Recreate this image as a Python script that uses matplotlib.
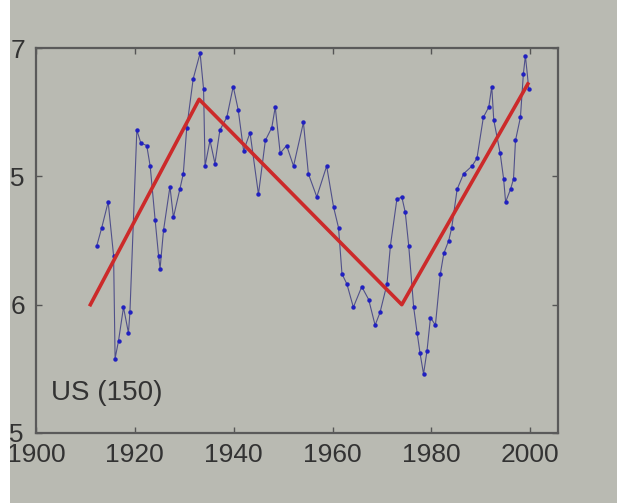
import matplotlib
matplotlib.use('Agg')
import matplotlib.pyplot as plt
import matplotlib.ticker as ticker
from matplotlib.patches import Rectangle

plt.rcParams['font.family'] = ['Liberation Sans', 'DejaVu Sans']

# blue series (year, value)
years = [1912.3, 1913.3, 1914.6, 1915.7, 1916.0, 1916.7, 1917.7, 1918.7, 1919.0,
         1920.4, 1921.2, 1922.4, 1923.1, 1924.1, 1924.8, 1925.1, 1925.8, 1927.1,
         1927.8, 1929.1, 1929.8, 1930.5, 1931.8, 1933.2, 1933.9, 1934.2, 1935.2,
         1936.2, 1937.2, 1938.6, 1939.9, 1940.9, 1942.0, 1943.3, 1945.0, 1946.4,
         1947.7, 1948.4, 1949.4, 1950.7, 1952.1, 1954.1, 1955.1, 1956.8, 1958.8,
         1960.2, 1961.2, 1961.9, 1962.9, 1964.2, 1965.9, 1967.3, 1968.6, 1969.6,
         1971.0, 1971.7, 1973.0, 1974.0, 1974.7, 1975.4, 1976.4, 1977.1, 1977.7,
         1978.4, 1979.1, 1979.8, 1980.8, 1981.8, 1982.5, 1983.5, 1984.1, 1985.2,
         1986.5, 1988.2, 1989.2, 1990.5, 1991.6, 1992.2, 1992.6, 1993.9, 1994.6,
         1995.0, 1996.0, 1996.6, 1997.0, 1998.0, 1998.6, 1999.0, 1999.7]
values = [6.23, 6.30, 6.40, 6.19, 5.79, 5.86, 5.99, 5.89, 5.97,
          6.68, 6.63, 6.62, 6.54, 6.33, 6.19, 6.14, 6.29, 6.46,
          6.34, 6.45, 6.51, 6.69, 6.88, 6.98, 6.84, 6.54, 6.64,
          6.55, 6.68, 6.73, 6.85, 6.76, 6.60, 6.67, 6.43, 6.64,
          6.69, 6.77, 6.59, 6.62, 6.54, 6.71, 6.51, 6.42, 6.54,
          6.38, 6.30, 6.12, 6.08, 5.99, 6.07, 6.02, 5.92, 5.97,
          6.08, 6.23, 6.41, 6.42, 6.36, 6.23, 5.99, 5.89, 5.81,
          5.73, 5.82, 5.95, 5.92, 6.12, 6.20, 6.25, 6.30, 6.45,
          6.51, 6.54, 6.57, 6.73, 6.77, 6.85, 6.72, 6.59, 6.49,
          6.40, 6.45, 6.49, 6.64, 6.73, 6.90, 6.97, 6.84]

# piecewise trend (red)
trend_years = [1911, 1933, 1974, 1999.5]
trend_values = [6.0, 6.80, 6.0, 6.86]

xticks = [1900, 1920, 1940, 1960, 1980, 2000]
yticks = [5.5, 6, 6.5, 7]

bg = '#b9bab2'
fig = plt.figure(figsize=(6.17, 5.03), dpi=100, facecolor=bg)
ax = fig.add_axes([36 / 617, 1 - 433 / 503, 522 / 617, 385 / 503])
ax.set_facecolor(bg)

ax.plot(years, values, color='#50508a', lw=0.8, zorder=2)
ax.plot(years, values, 'o', color='#2020c0', ms=3.2, mew=0, zorder=3)
ax.plot(trend_years, trend_values, color='#cc2a2a', lw=2.6, zorder=4)

ax.text(1903, 5.655, 'US (150)', fontsize=20, color='#333333', va='center')

ax.set_xlim(1900, 2005.6)
ax.set_ylim(5.5, 7)
ax.xaxis.set_major_locator(ticker.FixedLocator(xticks))
ax.yaxis.set_major_locator(ticker.FixedLocator(yticks))
ax.yaxis.set_major_formatter(ticker.FuncFormatter(lambda v, p: '%g' % v))
ax.tick_params(axis='both', direction='in', length=4, width=1, color='#555555',
               labelsize=19, labelcolor='#333333', top=True, right=True)
ax.tick_params(axis='y', pad=8)
ax.tick_params(axis='x', pad=7)
for s in ax.spines.values():
    s.set_color('#5a5a5a')
    s.set_linewidth(1.6)

# white margin of the photographed slide, covering the left end of the labels
fig.add_artist(Rectangle((0, 0), 10 / 617, 1, transform=fig.transFigure,
                         facecolor='white', edgecolor='none', zorder=10))

fig.savefig('out.png', dpi=100, facecolor=bg)
